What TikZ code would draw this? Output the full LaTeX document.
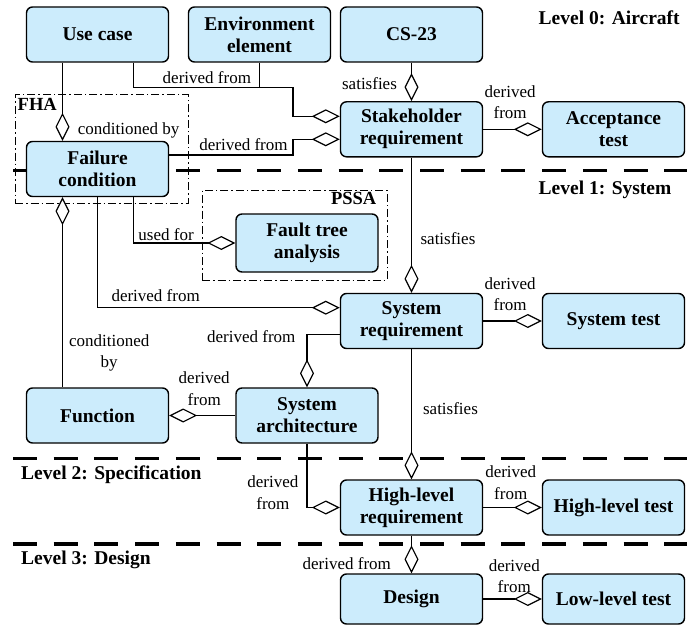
\documentclass[tikz,border=0pt]{standalone}
\usepackage{fontspec}
\setmainfont{Liberation Serif}
\usetikzlibrary{arrows.meta}
\definecolor{boxblue}{RGB}{204,236,252}

\tikzset{
  agg/.tip={Diamond[fill=white,length=28pt,width=14pt]},
  block/.style={draw, line width=1.4pt, rounded corners=6pt, fill=boxblue,
    minimum width=142pt, minimum height=55pt, inner sep=0pt, align=center,
    font=\bfseries\fontsize{19.5}{22}\selectfont},
  lbl/.style={inner sep=1pt, align=center, font=\fontsize{17}{21.5}\selectfont},
  wire/.style={line width=1.2pt},
  conn/.style={wire, -agg},
  levelline/.style={line width=3.5pt, dash pattern=on 24pt off 16.7pt},
  levelname/.style={inner sep=0pt, font=\bfseries\fontsize{19.5}{22}\selectfont},
  groupbox/.style={draw, line width=1pt, inner sep=0pt,
    dash pattern=on 8pt off 3pt on 1.5pt off 3pt},
  grouptitle/.style={inner sep=0pt, font=\bfseries\fontsize{18.5}{22}\selectfont}
}

\begin{document}
\begin{tikzpicture}[x=1pt,y=-1pt]
  \useasboundingbox (0,0) rectangle (697,626);

  \foreach \y in {170.7,458.3,544}
    \draw[levelline] (13,\y) -- (687,\y);
  \node[levelname, anchor=base west] (lvl0) at (538.5,24.6) {Level 0: Aircraft};
  \node[levelname, anchor=base west] (lvl1) at (538.5,194.5) {Level 1: System};
  \node[levelname, anchor=base west] (lvl2) at (21,479.6) {Level 2: Specification};
  \node[levelname, anchor=base west] (lvl3) at (21,564.6) {Level 3: Design};

  \node[groupbox, minimum width=173pt, minimum height=108pt] (fha) at (101.5,149) {};
  \node[groupbox, minimum width=185pt, minimum height=90pt] (pssa) at (294.5,235) {};
  \node[grouptitle, anchor=base west] (fhatitle) at ([xshift=3pt,yshift=-15.7pt]fha.north west) {FHA};
  \node[grouptitle, anchor=base east] (pssatitle) at ([xshift=-11pt,yshift=-15pt]pssa.north east) {PSSA};

  \node[block] (usecase) at (97.5,34.5) {Use case};
  \node[block] (envelem) at (259.5,34.5) {Environment\\element};
  \node[block] (cs23) at (411.5,34.5) {CS-23};
  \node[block] (stakereq) at (411.5,129.3) {Stakeholder\\requirement};
  \node[block] (acctest) at (613.5,129.3) {Acceptance\\test};
  \node[block] (failcond) at (97.5,169) {Failure\\condition};
  \node[block, minimum height=58pt] (fta) at (307,243) {Fault tree\\analysis};
  \node[block] (sysreq) at (411.5,321) {System\\requirement};
  \node[block] (systest) at (613.5,321) {System test};
  \node[block] (func) at (97.5,415.5) {Function};
  \node[block] (sysarch) at (307,415.5) {System\\architecture};
  \node[block] (hlreq) at (411.5,507.5) {High-level\\requirement};
  \node[block] (hltest) at (613.5,507.5) {High-level test};
  \node[block, minimum height=50pt] (design) at (411.5,599) {Design};
  \node[block, minimum height=50pt] (lltest) at (613.5,599) {Low-level test};

  \coordinate (j1) at (293,87.3);
  \coordinate (j2) at (293,139.3);
  \draw[conn] ([xshift=36pt]usecase.south) |- node[lbl,above=2.3pt,pos=0.73]{derived from} (j1) |- ([yshift=13pt]stakereq.west);
  \draw[wire] (envelem.south) -- (envelem.south |- j1);
  \draw[conn] ([yshift=14pt]failcond.east) -| node[lbl,above=2.3pt,pos=0.3]{derived from} (j2) -- ([yshift=-10pt]stakereq.west);
  \draw[conn] (cs23) -- node[lbl,left=13pt,pos=0.54]{satisfies} (stakereq);
  \draw[conn] (stakereq) -- node[lbl,above=9pt,pos=0.46]{derived\\from} (acctest);
  \draw[conn] ([xshift=-35pt]usecase.south) -- node[lbl,right=13.7pt,pos=0.87]{conditioned by} ([xshift=-35pt]failcond.north);
  \draw[conn] ([xshift=36pt]failcond.south) |- node[lbl,above=0.6pt,pos=0.66]{used for} (fta.west);
  \draw[conn] (failcond.south) |- node[lbl,above=4pt,pos=0.62]{derived from} ([yshift=13.3pt]sysreq.west);
  \draw[wire, agg-] ([xshift=-35pt]failcond.south) -- node[lbl,right=5pt,pos=0.82]{conditioned\\by} ([xshift=-35pt]func.north);
  \draw[conn] (stakereq) -- node[lbl,right=7.5pt,pos=0.6]{satisfies} (sysreq);
  \draw[conn] (sysreq) -- node[lbl,above=8.3pt,pos=0.46]{derived\\from} (systest);
  \draw[conn] ([yshift=-13.3pt]sysreq.west) -| node[lbl,anchor=south east,xshift=-10pt,yshift=-10pt,pos=0.5]{derived from} (sysarch.north);
  \draw[conn] (sysarch) -- node[lbl,above=8.3pt,pos=0.47]{derived\\from} (func);
  \draw[conn] (sysreq) -- node[lbl,right=10pt,pos=0.46]{satisfies} (hlreq);
  \draw[conn] (sysarch.south) |- node[lbl,anchor=south east,xshift=-7pt,yshift=-3.5pt,pos=0.5]{derived\\from} (hlreq.west);
  \draw[conn] (hlreq) -- node[lbl,above=6.5pt,pos=0.47]{derived\\from} (hltest);
  \draw[conn] (hlreq) -- node[lbl,left=19pt,pos=0.73]{derived from} (design);
  \draw[conn] (design) -- node[lbl,above=4.7pt,pos=0.53]{derived\\from} (lltest);
\end{tikzpicture}
\end{document}
